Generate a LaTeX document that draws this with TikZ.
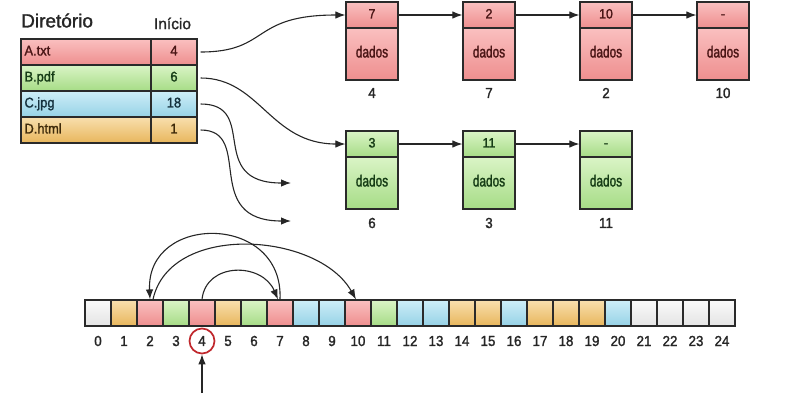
\documentclass[tikz,border=0pt]{standalone}
\usepackage{fontspec}
\setmainfont[FakeStretch=0.92,FakeBold=1.6]{Liberation Sans}
\newfontfamily\titlef[FakeBold=1.4]{Liberation Sans}
\newfontfamily\narrowf[FakeStretch=0.74,FakeBold=1.6]{Liberation Sans}
\usetikzlibrary{arrows.meta}
\definecolor{rtop}{HTML}{FAC0C0}\definecolor{rbot}{HTML}{EE8E8E}\definecolor{rtxt}{HTML}{4A1616}
\definecolor{gtop}{HTML}{DAF4C6}\definecolor{gbot}{HTML}{A6DC86}\definecolor{gtxt}{HTML}{163C16}
\definecolor{btop}{HTML}{CEEEF8}\definecolor{bbot}{HTML}{96D2E6}\definecolor{btxt}{HTML}{16323F}
\definecolor{otop}{HTML}{F8DFAE}\definecolor{obot}{HTML}{E8B65C}\definecolor{otxt}{HTML}{3E2A0A}
\definecolor{wtop}{HTML}{FAFAFA}\definecolor{wbot}{HTML}{E4E4E4}
\definecolor{edge}{HTML}{2A2A2A}
\definecolor{ring}{HTML}{C0282D}
\tikzset{
  cell/.style={draw=edge, line width=1.2pt, inner sep=0pt, text height=1.7ex, text depth=0.4ex},
  redc/.style={cell, top color=rtop, bottom color=rbot, text=rtxt},
  grnc/.style={cell, top color=gtop, bottom color=gbot, text=gtxt},
  bluc/.style={cell, top color=btop, bottom color=bbot, text=btxt},
  orac/.style={cell, top color=otop, bottom color=obot, text=otxt},
  whic/.style={cell, top color=wtop, bottom color=wbot},
  namec/.style={minimum height=26pt, text width=123pt, inner xsep=3.5pt, align=left, font=\fontsize{14}{14}\selectfont},
  valc/.style={minimum height=26pt, minimum width=46pt, font=\fontsize{14}{14}\selectfont},
  ptrc/.style={minimum width=52pt, minimum height=26pt, font=\fontsize{13.5}{13.5}\selectfont},
  datc/.style={minimum width=52pt, minimum height=52pt, font=\narrowf\fontsize{16}{16}\selectfont},
  memc/.style={minimum width=26pt, minimum height=26pt},
  lbl/.style={inner sep=0pt, text=black!85, font=\fontsize{14.5}{14.5}\selectfont},
  link/.style={-{Latex[length=10pt,width=7.5pt]}, line width=1.1pt, draw=black!85},
}
\begin{document}
\begin{tikzpicture}[x=1pt,y=-1pt]
\useasboundingbox (0,0) rectangle (787,405);
% Directory table
\node[anchor=west, inner sep=0pt, text=black!85, font=\titlef\fontsize{19}{19}\selectfont] (title) at (21,20.5) {Diretório};
\node[inner sep=0pt, text=black!85, font=\titlef\fontsize{15.5}{15.5}\selectfont] (inicio) at (172.5,23.5) {Início};
\node[redc, namec] (na) at (86,52) {A.txt};
\node[redc, valc]  (va) at (174,52) {4};
\node[grnc, namec] (nb) at (86,78) {B.pdf};
\node[grnc, valc]  (vb) at (174,78) {6};
\node[bluc, namec] (nc) at (86,104) {C.jpg};
\node[bluc, valc]  (vc) at (174,104) {18};
\node[orac, namec] (nd) at (86,130) {D.html};
\node[orac, valc]  (vd) at (174,130) {1};
% Linked list A
\foreach \i/\x/\p/\b in {1/372/7/4, 2/489/2/7, 3/606/10/2, 4/723/-/10}{
  \node[redc, ptrc] (pa\i) at (\x,15) {\p};
  \node[redc, datc] (da\i) at (\x,54) {dados};
  \node[lbl] (la\i) at (\x,93) {\b};
}
% Linked list B
\foreach \i/\x/\p/\b in {1/372/3/6, 2/489/11/3, 3/606/-/11}{
  \node[grnc, ptrc] (pb\i) at (\x,144) {\p};
  \node[grnc, datc] (db\i) at (\x,183) {dados};
  \node[lbl] (lb\i) at (\x,223) {\b};
}
\draw[link] (pa1.east) -- (pa2.west);
\draw[link] (pa2.east) -- (pa3.west);
\draw[link] (pa3.east) -- (pa4.west);
\draw[link] (pb1.east) -- (pb2.west);
\draw[link] (pb2.east) -- (pb3.west);
% Curves from directory
\coordinate (cend) at (291,183);
\coordinate (dend) at (291,221);
\draw[link] ([xshift=3pt]va.east) .. controls (270,52) and (250,15) .. (pa1.west);
\draw[link] ([xshift=3pt]vb.east) .. controls (260,78) and (270,144) .. (pb1.west);
\draw[link] ([xshift=3pt]vc.east) .. controls (260,104) and (205,183) .. (cend);
\draw[link] ([xshift=3pt]vd.east) .. controls (255,130) and (200,221) .. (dend);
% Memory blocks
\foreach \i/\s in {0/whic,1/orac,2/redc,3/grnc,4/redc,5/orac,6/grnc,7/redc,8/bluc,9/bluc,10/redc,11/grnc,12/bluc,13/bluc,14/orac,15/orac,16/bluc,17/orac,18/orac,19/orac,20/bluc,21/whic,22/whic,23/whic,24/whic}{
  \node[\s, memc] (m\i) at ({98+26*\i},313) {};
  \node[lbl] (l\i) at ({98+26*\i},341) {\i};
}
% Arcs
\draw[link] (m7.north) .. controls (284,213) and (146,213) .. (m2.north);
\draw[link] ([xshift=3pt]m2.north) .. controls (170,222) and (318,232) .. ([xshift=-2pt]m10.north);
\draw[link] (m4.north) .. controls (206,262) and (262,262) .. ([xshift=-2pt]m7.north);
% Start marker
\node[circle, draw=ring, line width=1.7pt, minimum size=25pt, inner sep=0pt] (ring4) at (l4) {};
\coordinate (start) at (202,393);
\draw[link] (start) -- (ring4.south);
\end{tikzpicture}
\end{document}
